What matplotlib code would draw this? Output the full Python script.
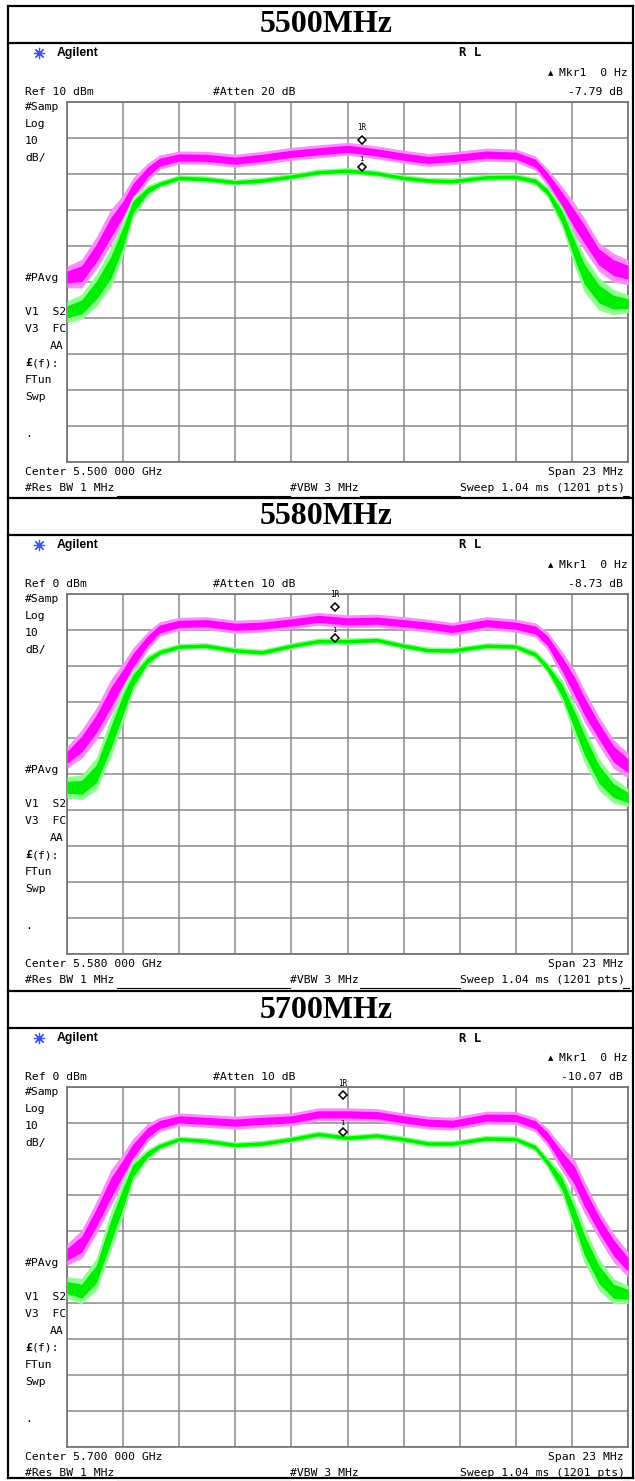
import numpy as np
import matplotlib.pyplot as plt

W, H = 635, 1481

# frequency offset from the centre frequency (MHz), same sample points for every trace
freq = [-11.5, -10.9, -10.3, -9.7, -9.2, -8.8, -8.2, -7.7, -6.9, -5.8, -4.6, -3.5, -2.3, -1.2,
        0.0, 1.2, 2.3, 3.3, 4.3, 5.7, 6.9, 7.7, 8.2, 8.8, 9.3, 9.7, 10.3, 10.9, 11.5]

titles = ["5500MHz", "5580MHz", "5700MHz"]
centers = ["5.500 000 GHz", "5.580 000 GHz", "5.700 000 GHz"]
ref_levels = [10, 0, 0]
attens = [20, 10, 10]
mkr_deltas = ["-7.79 dB", "-8.73 dB", "-10.07 dB"]

# trace levels (dBm)
pink_5500 = [-38.6, -37.7, -32.0, -24.8, -19.7, -14.6, -9.5, -6.7, -5.4, -5.5, -6.3, -5.5, -4.4, -3.7,
             -3.0, -4.0, -5.2, -6.1, -5.6, -4.6, -4.9, -7.0, -11.0, -17.0, -22.5, -26.6, -33.0, -36.0, -37.3]
green_5500 = [-48.3, -46.9, -42.3, -35.9, -27.5, -19.2, -14.6, -12.8, -11.1, -11.4, -12.3, -11.8, -10.7, -9.5,
              -9.1, -9.8, -11.1, -11.8, -12.0, -10.9, -10.8, -12.0, -15.0, -22.0, -31.0, -37.7, -43.3, -45.6, -46.0]
pink_5580 = [-45.4, -41.7, -36.1, -28.7, -23.1, -18.5, -13.0, -9.7, -8.3, -8.1, -9.1, -8.8, -7.9, -6.9,
             -7.6, -7.4, -8.1, -8.8, -9.7, -8.1, -8.8, -10.0, -13.0, -19.5, -25.5, -31.0, -38.0, -44.4, -47.7]
green_5580 = [-53.7, -53.7, -50.0, -39.8, -30.6, -24.1, -18.5, -16.2, -14.6, -14.4, -15.7, -16.2, -14.4, -13.1,
              -13.1, -12.8, -14.4, -15.6, -15.7, -14.4, -14.6, -16.8, -20.5, -26.9, -35.0, -41.7, -50.0, -54.6, -56.5]
pink_5700 = [-46.5, -43.7, -36.3, -28.0, -22.4, -17.8, -12.7, -10.4, -9.0, -9.4, -9.9, -9.4, -9.0, -7.6,
             -7.6, -7.8, -9.0, -9.9, -10.2, -8.5, -8.6, -10.5, -14.0, -20.0, -24.5, -30.5, -38.1, -44.6, -49.3]
green_5700 = [-55.7, -56.7, -52.0, -40.0, -30.7, -23.3, -18.7, -16.4, -14.5, -15.0, -16.1, -15.7, -14.5, -13.1,
              -14.1, -13.5, -14.5, -15.7, -15.7, -14.3, -14.5, -16.8, -21.0, -27.0, -36.0, -43.7, -52.0, -56.7, -57.6]

# half width of the noise band (dB)
pink_spread = [3.0, 4.0, 4.5, 5.0, 4.0, 3.5, 2.5, 2.0, 1.8, 1.8, 1.8, 1.8, 1.8, 1.8,
               1.8, 1.8, 1.8, 1.8, 1.8, 1.8, 1.8, 2.0, 2.5, 3.5, 4.5, 4.5, 4.0, 4.0, 3.5]
green_spread = [3.0, 3.5, 4.5, 5.5, 5.0, 3.0, 1.5, 1.0, 0.9, 0.9, 0.9, 0.9, 0.9, 0.9,
                0.9, 0.9, 0.9, 0.9, 0.9, 0.9, 0.9, 1.1, 1.5, 3.0, 4.5, 5.0, 4.5, 3.5, 2.5]

pinks = [pink_5500, pink_5580, pink_5700]
greens = [green_5500, green_5580, green_5700]

# marker 1 positions
mkr_freq = [0.58, -0.53, -0.2]
mkr_pink = [-0.5, -3.5, -2.3]
mkr_green = [-8.1, -12.3, -12.4]

tops = [6, 498, 991]

MONO = dict(family="DejaVu Sans Mono", fontsize=8.2, color="black")
PINK, PINK_LT = "#ff00ff", "#ff8cff"
GREEN, GREEN_LT = "#00ee00", "#8cff8c"
GRID = "#8a8a8a"

fig = plt.figure(figsize=(W / 100, H / 100), dpi=100)
bg = fig.add_axes([0, 0, 1, 1])
bg.set_xlim(0, W)
bg.set_ylim(H, 0)
bg.axis("off")

lw_frame = 2.2 * 0.72
# outer frame
bg.plot([8, 8], [6, 1478], color="black", lw=lw_frame)
bg.plot([633, 633], [6, 1478], color="black", lw=lw_frame)
bg.plot([8, 633], [1478, 1478], color="black", lw=lw_frame)

f = np.array(freq)
for k in range(3):
    T = tops[k]
    ref = ref_levels[k]
    bg.plot([8, 633], [T, T], color="black", lw=lw_frame)
    bg.plot([8, 633], [T + 37, T + 37], color="black", lw=lw_frame)
    bg.text(326, T + 19, titles[k], ha="center", va="center", family="Liberation Serif",
            fontsize=23, fontweight="bold")

    # header
    bg.scatter([39], [T + 47], marker=(8, 2, 0), s=55, color="#3a55ff", lw=0.9)
    bg.text(57, T + 47, "Agilent", ha="left", va="center", family="Liberation Sans",
            fontsize=8.8, fontweight="bold")
    bg.text(470, T + 47, "R L", ha="center", va="center", family="DejaVu Sans Mono",
            fontsize=8.8, fontweight="bold")
    bg.text(551, T + 67, "\u25b2", ha="center", va="center", family="DejaVu Sans", fontsize=5)
    bg.text(628, T + 67, "Mkr1  0 Hz", ha="right", va="center", **MONO)
    bg.text(623, T + 86, mkr_deltas[k], ha="right", va="center", **MONO)
    bg.text(25, T + 86, f"Ref {ref} dBm", ha="left", va="center", **MONO)
    bg.text(213, T + 86, f"#Atten {attens[k]} dB", ha="left", va="center", **MONO)

    # left annotation column
    for txt, dy in [("#Samp", 101), ("Log", 118), ("10", 135), ("dB/", 152),
                    ("#PAvg", 272), ("V1  S2", 306), ("V3  FC", 323),
                    ("FTun", 374), ("Swp", 391), (".", 428)]:
        bg.text(25, T + dy, txt, ha="left", va="center", **MONO)
    bg.text(64, T + 340, "AA", ha="right", va="center", **MONO)
    bg.text(25, T + 357, "\u00a3", ha="left", va="center", family="DejaVu Sans Mono",
            fontsize=8.2, fontweight="bold")
    bg.text(32, T + 357, "(f):", ha="left", va="center", **MONO)

    # footer
    bg.text(25, T + 466, f"Center {centers[k]}", ha="left", va="center", **MONO)
    bg.text(624, T + 466, "Span 23 MHz", ha="right", va="center", **MONO)
    bg.text(25, T + 482, "#Res BW 1 MHz", ha="left", va="center", **MONO)
    bg.text(290, T + 482, "#VBW 3 MHz", ha="left", va="center", **MONO)
    bg.text(460, T + 482, "Sweep 1.04 ms (1201 pts)", ha="left", va="center", **MONO)
    for x0, x1 in [(117, 290), (360, 460), (623, 629)]:
        bg.plot([x0, x1], [T + 490, T + 490], color="black", lw=0.8)
    bg.text(615, T + 116, "*", ha="center", va="center", **MONO)

    # trace display
    gtop = T + 96
    ax = fig.add_axes([67 / W, 1 - (gtop + 360) / H, 561 / W, 360 / H])
    ax.set_xlim(-11.5, 11.5)
    ax.set_ylim(ref - 100, ref)
    ax.set_xticks(np.linspace(-11.5, 11.5, 11))
    ax.set_yticks(np.arange(ref - 100, ref + 1, 10))
    ax.tick_params(length=0, labelbottom=False, labelleft=False)
    ax.grid(True, color=GRID, lw=1.1)
    for s in ax.spines.values():
        s.set_color("#707070")
        s.set_linewidth(1.2)

    p = np.array(pinks[k])
    g = np.array(greens[k])
    ps = np.array(pink_spread)
    gs = np.array(green_spread)
    # light outer noise halo, solid core
    ax.fill_between(f, p - ps, p + ps, color=PINK_LT, lw=0, zorder=3)
    ax.fill_between(f, p - 0.55 * ps, p + 0.55 * ps, color=PINK, lw=0, zorder=3)
    ax.fill_between(f, g - gs, g + gs, color=GREEN_LT, lw=0, zorder=4)
    ax.fill_between(f, g - 0.55 * gs, g + 0.55 * gs, color=GREEN, lw=0, zorder=4)

    ax.plot([mkr_freq[k]], [mkr_pink[k]], marker="D", ms=4.5, mfc="white", mec="black",
            mew=1.1, zorder=6, clip_on=False)
    ax.plot([mkr_freq[k]], [mkr_green[k]], marker="D", ms=4.5, mfc="white", mec="black",
            mew=1.1, zorder=6)
    ax.text(mkr_freq[k], mkr_pink[k] + 3.3, "1R", ha="center", va="center",
            family="DejaVu Sans Mono", fontsize=5.5, zorder=6)
    ax.text(mkr_freq[k], mkr_green[k] + 2.4, "1", ha="center", va="center",
            family="DejaVu Sans Mono", fontsize=5, zorder=6)

fig.savefig("out.png", dpi=100)
